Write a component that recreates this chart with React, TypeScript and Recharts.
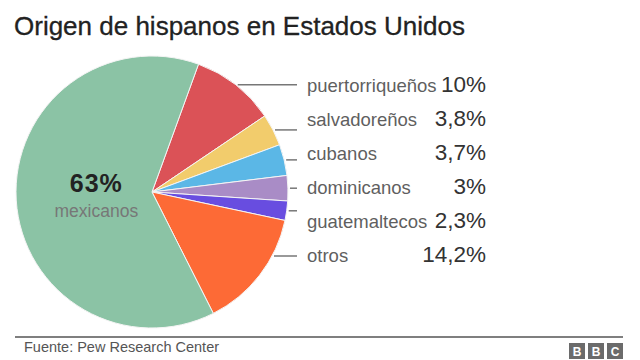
import { PieChart, Pie, Cell } from "recharts";

const origins = ["puertorriqueños", "salvadoreños", "cubanos", "dominicanos", "guatemaltecos", "otros", "mexicanos"];
const shares = [10, 3.8, 3.7, 3, 2.3, 14.2, 63];
const shareLabels = ["10%", "3,8%", "3,7%", "3%", "2,3%", "14,2%", "63%"];
const colors = ["#DB5257", "#F2CC6C", "#5BB7E6", "#A98CC6", "#684DE0", "#FD6A36", "#8BC3A5"];

const data = origins.map((name, i) => ({ name, value: shares[i], label: shareLabels[i] }));

const FONT = "'Liberation Sans', Arial, Helvetica, sans-serif";
const RAD = Math.PI / 180;

const renderLabel = (props: any) => {
  const { cx, cy, midAngle, outerRadius, index, payload } = props;
  const r = outerRadius;
  if (index === origins.length - 1) {
    // big slice label sits inside the pie
    const d = r * 0.41;
    const x = cx + d * Math.cos(-midAngle * RAD);
    const y = cy + d * Math.sin(-midAngle * RAD);
    return (
      <g key="main">
        <text x={x} y={y - 3} textAnchor="middle" fontFamily={FONT} fontSize={25} fontWeight="bold" fill="#222" letterSpacing={1}>
          {payload.label}
        </text>
        <text x={x} y={y + 22} textAnchor="middle" fontFamily={FONT} fontSize={17.5} fill="#777">
          {payload.name}
        </text>
      </g>
    );
  }
  const baseline = 92 + index * 34;
  const rowMid = baseline - 6;
  const midY = cy - r * Math.sin(midAngle * RAD);
  const lineY = Math.abs(midY - rowMid) < 12 ? midY : rowMid;
  const dy = lineY - cy;
  const x0 = cx + Math.sqrt(Math.max(r * r - dy * dy, 0)) + 2;
  return (
    <g key={`lab-${index}`}>
      <line x1={x0} y1={lineY} x2={297} y2={lineY} stroke="#777" strokeWidth={1.5} />
      <text x={307} y={baseline} fontFamily={FONT} fontSize={18.5} fill="#5f5f5f">
        {payload.name}
      </text>
      <text x={486} y={baseline} textAnchor="end" fontFamily={FONT} fontSize={22.5} fill="#333">
        {payload.label}
      </text>
    </g>
  );
};

export default function App() {
  return (
    <div style={{ position: "absolute", left: 0, top: 0, width: 640, height: 360, background: "#fff" }}>
      <PieChart width={640} height={360} margin={{ top: 0, right: 0, bottom: 0, left: 0 }} style={{ position: "absolute", left: 0, top: 0 }}>
        <Pie
          data={data}
          dataKey="value"
          nameKey="name"
          cx={152}
          cy={192}
          outerRadius={136}
          startAngle={70}
          endAngle={-290}
          stroke="#f4f4f4"
          strokeWidth={1}
          label={renderLabel}
          labelLine={false}
          isAnimationActive={false}
        >
          {data.map((d, i) => (
            <Cell key={d.name} fill={colors[i]} />
          ))}
        </Pie>
      </PieChart>
      <svg width={640} height={360} style={{ position: "absolute", left: 0, top: 0, pointerEvents: "none" }}>
        <text x={14} y={35} fontFamily={FONT} fontSize={26} fill="#222" stroke="#222" strokeWidth={0.3}>
          Origen de hispanos en Estados Unidos
        </text>
        <line x1={15} y1={337} x2={623} y2={337} stroke="#555" strokeWidth={1.5} />
        <text x={24} y={352} fontFamily={FONT} fontSize={14.5} fill="#555">
          Fuente: Pew Research Center
        </text>
        {["B", "B", "C"].map((ch, i) => (
          <g key={i}>
            <rect x={569 + i * 19} y={343} width={16} height={16} fill="#6b6b6b" />
            <text x={577 + i * 19} y={356} textAnchor="middle" fontFamily={FONT} fontSize={12} fontWeight="bold" fill="#fff">
              {ch}
            </text>
          </g>
        ))}
      </svg>
    </div>
  );
}
